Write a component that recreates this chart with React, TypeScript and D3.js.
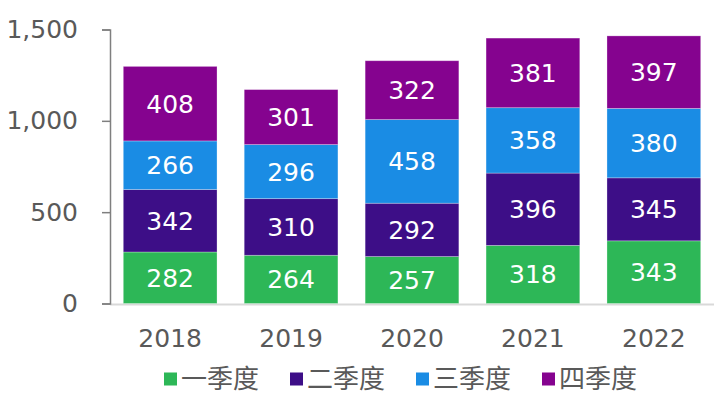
import React, { useEffect, useRef } from "react";
import * as d3 from "d3";

const years = ["2018", "2019", "2020", "2021", "2022"];
const quarters = ["一季度", "二季度", "三季度", "四季度"];
const q1 = [282, 264, 257, 318, 343];
const q2 = [342, 310, 292, 396, 345];
const q3 = [266, 296, 458, 358, 380];
const q4 = [408, 301, 322, 381, 397];
const yTicks = [0, 500, 1000, 1500];

const colors = ["#2DB757", "#3D0E87", "#1A8CE4", "#85038F"];

function App() {
  const svgRef = useRef<SVGSVGElement>(null);

  useEffect(() => {
    const width = 722;
    const height = 399;
    const margin = { top: 29.5, right: 8, bottom: 95.5, left: 110 };
    const font = "'DejaVu Sans', Verdana, sans-serif";

    const svg = d3.select(svgRef.current);
    svg.selectAll("*").remove();
    svg.attr("width", width).attr("height", height);

    const series = [q1, q2, q3, q4];
    const rows = years.map((y, i) => {
      const row: any = { year: y };
      quarters.forEach((q, k) => (row[q] = series[k][i]));
      return row;
    });
    const stacked = d3.stack().keys(quarters)(rows);

    const x = d3
      .scaleBand()
      .domain(years)
      .range([margin.left, width - margin.right])
      .paddingInner(0.225)
      .paddingOuter(0.11);

    const y = d3
      .scaleLinear()
      .domain([0, 1500])
      .range([height - margin.bottom, margin.top]);

    // baseline
    svg
      .append("line")
      .attr("x1", margin.left)
      .attr("x2", width - margin.right)
      .attr("y1", y(0) + 1)
      .attr("y2", y(0) + 1)
      .attr("stroke", "#d9d9d9")
      .attr("stroke-width", 2);

    // bars
    const groups = svg
      .selectAll("g.layer")
      .data(stacked)
      .enter()
      .append("g")
      .attr("class", "layer")
      .attr("fill", (d, i) => colors[i]);

    groups
      .selectAll("rect")
      .data((d) => d)
      .enter()
      .append("rect")
      .attr("x", (d: any) => x(d.data.year)!)
      .attr("y", (d) => y(d[1]))
      .attr("width", x.bandwidth())
      .attr("height", (d) => y(d[0]) - y(d[1]))
      .attr("stroke", "#ffffff")
      .attr("stroke-opacity", 0.35)
      .attr("stroke-width", 0.8);

    groups
      .selectAll("text")
      .data((d) => d)
      .enter()
      .append("text")
      .attr("x", (d: any) => x(d.data.year)! + x.bandwidth() / 2)
      .attr("y", (d) => (y(d[0]) + y(d[1])) / 2)
      .attr("dy", "0.36em")
      .attr("text-anchor", "middle")
      .attr("fill", "#ffffff")
      .attr("font-family", font)
      .attr("font-size", 25)
      .text((d) => d[1] - d[0]);

    // y axis
    const yAxis = svg
      .append("g")
      .attr("transform", `translate(${margin.left},0)`)
      .call(
        d3
          .axisLeft(y)
          .tickValues(yTicks)
          .tickSize(8)
          .tickPadding(24)
          .tickFormat(d3.format(","))
      );
    yAxis.select(".domain").attr("stroke", "#7f7f7f").attr("stroke-width", 1.5);
    yAxis.selectAll(".tick line").attr("stroke", "#7f7f7f").attr("stroke-width", 1.5);
    yAxis
      .selectAll(".tick text")
      .attr("fill", "#595959")
      .attr("font-family", font)
      .attr("font-size", 25);

    // x labels
    svg
      .append("g")
      .selectAll("text")
      .data(years)
      .enter()
      .append("text")
      .attr("x", (d) => x(d)! + x.bandwidth() / 2)
      .attr("y", 338)
      .attr("dy", "0.36em")
      .attr("text-anchor", "middle")
      .attr("fill", "#595959")
      .attr("font-family", font)
      .attr("font-size", 25)
      .text((d) => d);

    // legend
    const legend = svg
      .append("g")
      .selectAll("g")
      .data(quarters)
      .enter()
      .append("g")
      .attr("transform", (d, i) => `translate(${164 + i * 126},379)`);
    legend
      .append("rect")
      .attr("x", 0)
      .attr("y", -6.5)
      .attr("width", 13)
      .attr("height", 13)
      .attr("fill", (d, i) => colors[i]);
    legend
      .append("text")
      .attr("x", 17)
      .attr("y", 0)
      .attr("dy", "0.36em")
      .attr("fill", "#595959")
      .attr("font-family", "'Noto Sans CJK SC', sans-serif")
      .attr("font-size", 26)
      .text((d) => d);
  }, []);

  return (
    <svg
      ref={svgRef}
      style={{ position: "absolute", left: 0, top: 0, background: "#ffffff" }}
    ></svg>
  );
}

export default App;
